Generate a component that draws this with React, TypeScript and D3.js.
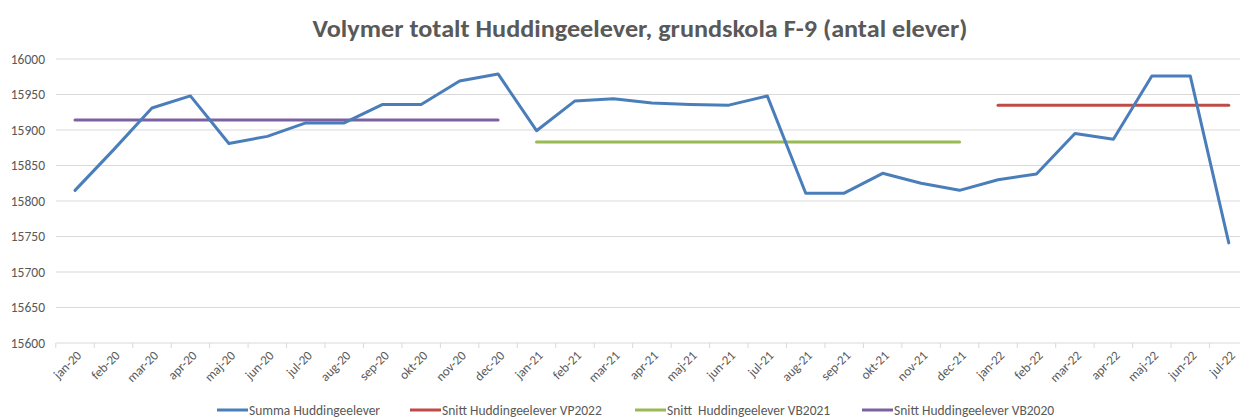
import React from "react";
import * as d3 from "d3";

// month labels, jan-20 .. jul-22
const months = [
  "jan-20", "feb-20", "mar-20", "apr-20", "maj-20", "jun-20", "jul-20", "aug-20", "sep-20", "okt-20", "nov-20", "dec-20",
  "jan-21", "feb-21", "mar-21", "apr-21", "maj-21", "jun-21", "jul-21", "aug-21", "sep-21", "okt-21", "nov-21", "dec-21",
  "jan-22", "feb-22", "mar-22", "apr-22", "maj-22", "jun-22", "jul-22",
];

// Summa Huddingeelever
const summa = [
  15815, 15872, 15931, 15948, 15881, 15891, 15910, 15910, 15936, 15936, 15969, 15979,
  15899, 15941, 15944, 15938, 15936, 15935, 15948, 15811, 15811, 15839, 15825, 15815,
  15830, 15838, 15895, 15887, 15976, 15976, 15741,
];

// averages: first month, last month, value
const snittVP2022 = { from: "jan-22", to: "jul-22", value: 15935 };
const snittVB2021 = { from: "jan-21", to: "dec-21", value: 15883 };
const snittVB2020 = { from: "jan-20", to: "dec-20", value: 15914 };

const yTicks = [15600, 15650, 15700, 15750, 15800, 15850, 15900, 15950, 16000];

const legendItems = [
  { label: "Summa Huddingeelever", color: "#4A7EBB", x: 217 },
  { label: "Snitt Huddingeelever VP2022", color: "#BE4B48", x: 410 },
  { label: "Snitt\u00a0 Huddingeelever VB2021", color: "#98B954", x: 635 },
  { label: "Snitt Huddingeelever VB2020", color: "#7D60A0", x: 862 },
];

const W = 1240;
const H = 419;
const font = "Calibri, Carlito, 'Open Sans', sans-serif";

export default function App() {
  // plot area runs a little past the right edge, like the cropped original
  const x = d3.scaleBand().domain(months).range([55.8, 1248]);
  const cx = (m: string) => (x(m) as number) + x.bandwidth() / 2;
  const y = d3.scaleLinear().domain([15600, 16000]).range([343, 59]);

  const line = d3
    .line<number>()
    .x((_, i) => cx(months[i]))
    .y((d) => y(d));

  const avgs = [
    { ...snittVB2020, color: "#7D60A0" },
    { ...snittVB2021, color: "#98B954" },
    { ...snittVP2022, color: "#BE4B48" },
  ];

  return (
    <div style={{ position: "absolute", left: 0, top: 0 }}>
      <svg width={W} height={H} style={{ display: "block", background: "#fff" }}>
        <text
          x={640}
          y={37}
          textAnchor="middle"
          fontFamily={font}
          fontWeight="bold"
          fontSize={25}
          fill="#595959"
          textLength={655}
          lengthAdjust="spacingAndGlyphs"
        >
          Volymer totalt Huddingeelever, grundskola F-9 (antal elever)
        </text>

        {/* gridlines */}
        {yTicks.map((t) => (
          <g key={t}>
            <line x1={55.8} x2={1248} y1={y(t)} y2={y(t)} stroke="#d9d9d9" strokeWidth={1} />
            <text
              x={45}
              y={y(t)}
              dy="0.35em"
              textAnchor="end"
              fontFamily={font}
              fontSize={13.5}
              fill="#595959"
            >
              {t}
            </text>
          </g>
        ))}

        {/* x axis ticks */}
        {months.map((m) => (
          <line
            key={"t" + m}
            x1={x(m) as number}
            x2={x(m) as number}
            y1={343}
            y2={348}
            stroke="#d9d9d9"
          />
        ))}
        {months.map((m) => (
          <text
            key={"l" + m}
            transform={`translate(${cx(m) + 4},${353}) rotate(-45)`}
            textAnchor="end"
            dy="0.35em"
            fontFamily={font}
            fontSize={13}
            fill="#595959"
          >
            {m}
          </text>
        ))}

        {/* average lines */}
        {avgs.map((a) => (
          <line
            key={a.from}
            x1={cx(a.from)}
            x2={cx(a.to)}
            y1={y(a.value)}
            y2={y(a.value)}
            stroke={a.color}
            strokeWidth={3}
            strokeLinecap="round"
          />
        ))}

        <path
          d={line(summa) ?? ""}
          fill="none"
          stroke="#4A7EBB"
          strokeWidth={3}
          strokeLinejoin="round"
          strokeLinecap="round"
        />

        {/* legend */}
        {legendItems.map((l) => (
          <g key={l.label}>
            <line x1={l.x} x2={l.x + 31} y1={410} y2={410} stroke={l.color} strokeWidth={3} />
            <text x={l.x + 32} y={410} dy="0.35em" fontFamily={font} fontSize={13.5} fill="#595959">
              {l.label}
            </text>
          </g>
        ))}
      </svg>
    </div>
  );
}
